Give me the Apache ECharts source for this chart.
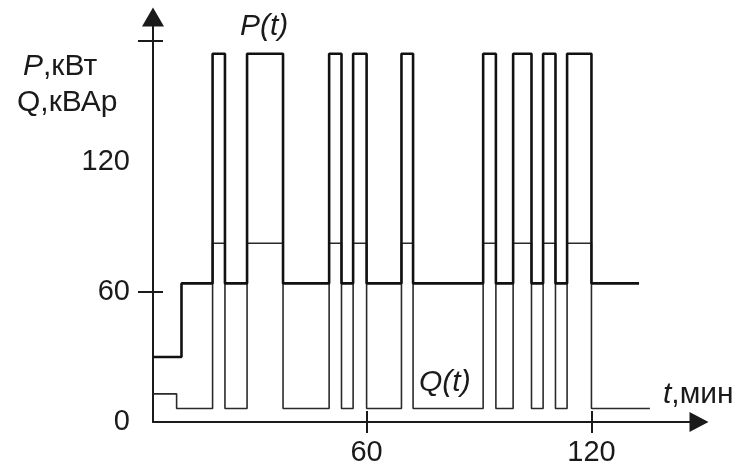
<!DOCTYPE html>
<html>
<head>
<meta charset="UTF-8">
<title>P(t), Q(t)</title>
<script type="text/javascript" src="https://cdn.jsdelivr.net/npm/echarts@6/dist/echarts.min.js"></script>
<style>
  html, body { margin: 0; padding: 0; background: #fff; }
  #main { width: 753px; height: 471px; }
</style>
</head>
<body>
<div id="main"></div>
<script type="text/javascript">
// switching moments, minutes
var pTimes = [3, 10.6, 18.9, 22.2, 28.1, 37.7, 50.0, 53.3, 56.4, 60.0, 69.3, 72.4, 91.1, 94.5, 99.1, 104.0, 107.1, 110.4, 113.5, 120.0, 132.7];
var pValues = [30, 64, 170, 64, 170, 64, 170, 64, 170, 64, 170, 64, 170, 64, 170, 64, 170, 64, 170, 64, 64];
var qTimes = [3, 9.3, 18.9, 22.2, 28.1, 37.7, 50.0, 53.3, 56.4, 60.0, 69.3, 72.4, 91.1, 94.5, 99.1, 104.0, 107.1, 110.4, 113.5, 120.0, 135.6];
var qValues = [13, 6.2, 82.5, 6.2, 82.5, 6.2, 82.5, 6.2, 82.5, 6.2, 82.5, 6.2, 82.5, 6.2, 82.5, 6.2, 82.5, 6.2, 82.5, 6.2, 6.2];

var xTickLabels = [60, 120];
var yTickLabels = [0, 60, 120];
var yTicks = [60, 176];

var FONT = 'Liberation Sans';
var INK = '#1a1a1a';

function pairs(ts, vs) {
    return ts.map(function (t, i) { return [t, vs[i]]; });
}

var myChart = echarts.init(document.getElementById('main'), null, { renderer: 'canvas' });

var xRange = { min: 3, max: 148.7 };
var yRange = { min: 0, max: 187 };

option = {
    animation: false,
    grid: { left: 153, right: 54, top: 17, bottom: 49, containLabel: false, outerBoundsMode: 'none' },
    xAxis: [
        {
            type: 'value', position: 'bottom', min: xRange.min, max: xRange.max,
            splitLine: { show: false },
            axisLine: { onZero: false, lineStyle: { color: INK, width: 2 },
                        symbol: ['none', 'triangle'], symbolSize: [20, 19] },
            axisTick: { length: 11, lineStyle: { color: INK, width: 2 }, customValues: xTickLabels },
            axisLabel: { customValues: xTickLabels, margin: 16, color: INK, fontSize: 29, fontFamily: FONT },
            name: '{i|t},мин', nameLocation: 'end', nameGap: -36,
            nameTextStyle: {
                color: INK, fontSize: 30, fontFamily: FONT, align: 'left', verticalAlign: 'bottom',
                padding: [0, 0, 12, 0],
                rich: { i: { fontStyle: 'italic', fontSize: 30, fontFamily: FONT, color: INK } }
            }
        },
        {
            type: 'value', position: 'bottom', min: xRange.min, max: xRange.max,
            splitLine: { show: false },
            axisLine: { show: false, onZero: false },
            axisTick: { inside: true, length: 11, lineStyle: { color: INK, width: 2 }, customValues: xTickLabels },
            axisLabel: { show: false }
        }
    ],
    yAxis: [
        {
            type: 'value', position: 'left', min: yRange.min, max: yRange.max,
            splitLine: { show: false },
            axisLine: { onZero: false, lineStyle: { color: INK, width: 2 },
                        symbol: ['none', 'triangle'], symbolSize: [22, 19] },
            axisTick: { length: 15, lineStyle: { color: INK, width: 2 }, customValues: yTicks },
            axisLabel: { customValues: yTickLabels, margin: 23, color: INK, fontSize: 29, fontFamily: FONT }
        },
        {
            type: 'value', position: 'left', min: yRange.min, max: yRange.max,
            splitLine: { show: false },
            axisLine: { show: false, onZero: false },
            axisTick: { inside: true, length: 10, lineStyle: { color: INK, width: 2 }, customValues: yTicks },
            axisLabel: { show: false }
        }
    ],
    graphic: [
        {
            type: 'text', left: 23, top: 52, silent: true,
            style: {
                text: '{i|P},кВт', fill: INK, font: '30px "Liberation Sans"',
                rich: { i: { fontStyle: 'italic', fontSize: 30, fontFamily: FONT, fill: INK } }
            }
        },
        {
            type: 'text', left: 17, top: 88, silent: true,
            style: { text: 'Q,кВАр', fill: INK, font: '30px "Liberation Sans"' }
        },
        {
            type: 'text', left: 240, top: 12, silent: true,
            style: { text: 'P(t)', fill: INK, font: 'italic 30px "Liberation Sans"' }
        },
        {
            type: 'text', left: 419, top: 368, silent: true,
            style: { text: 'Q(t)', fill: INK, font: 'italic 30px "Liberation Sans"' }
        }
    ],
    series: [
        {
            name: 'Q(t)', type: 'line', step: 'end', symbol: 'none',
            xAxisIndex: 0, yAxisIndex: 0,
            lineStyle: { color: '#2a2a2a', width: 1.6 },
            data: pairs(qTimes, qValues)
        },
        {
            name: 'P(t)', type: 'line', step: 'end', symbol: 'none',
            xAxisIndex: 0, yAxisIndex: 0,
            lineStyle: { color: '#111', width: 2.6 },
            data: pairs(pTimes, pValues)
        }
    ]
};

myChart.setOption(option);
</script>
</body>
</html>
